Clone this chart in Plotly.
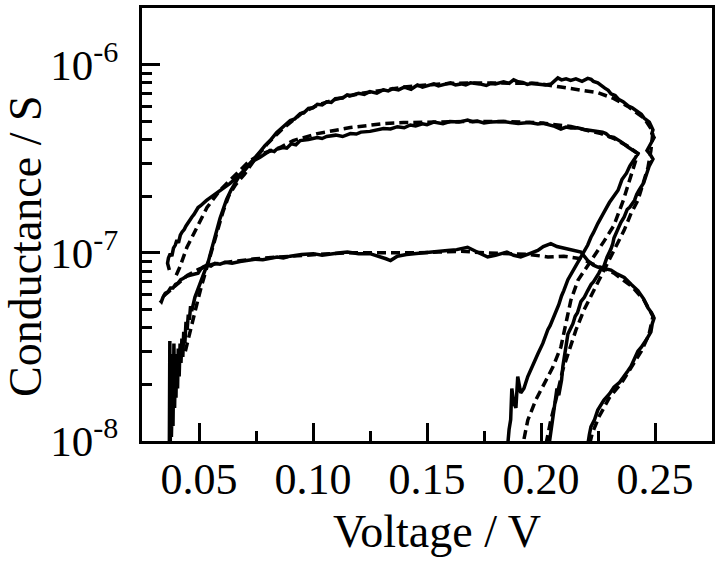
import plotly.graph_objects as go

# ---------------- data (Voltage / V , Conductance / S) ----------------
x_tick_vals = [0.05, 0.10, 0.15, 0.20, 0.25]
x_tick_text = ["0.05", "0.10", "0.15", "0.20", "0.25"]
x_minor_vals = [0.075, 0.125, 0.175, 0.225]
y_tick_vals = [1e-8, 1e-7, 1e-6]
y_tick_text = ["10<sup>-8</sup>", "10<sup>-7</sup>", "10<sup>-6</sup>"]
y_minor_vals = [2e-8, 3e-8, 4e-8, 5e-8, 6e-8, 7e-8, 8e-8, 9e-8,
                2e-7, 3e-7, 4e-7, 5e-7, 6e-7, 7e-7, 8e-7, 9e-7, 2e-6]

# loop 1 (highest conductance), measured
loop1_meas = [
    (0.0370, 0.95e-8), (0.0372, 3.4e-8), (0.0374, 1.0e-8), (0.0377, 2.9e-8), (0.0379, 1.05e-8),
    (0.0383, 1.8e-8), (0.0386, 1.2e-8), (0.0390, 3.3e-8), (0.0393, 1.5e-8), (0.0396, 2.6e-8),
    (0.0399, 1.7e-8), (0.0402, 2.9e-8), (0.0406, 1.9e-8), (0.0409, 3.1e-8), (0.0413, 2.2e-8),
    (0.0417, 3.3e-8), (0.0421, 2.6e-8), (0.0425, 3.5e-8), (0.0429, 2.8e-8), (0.0433, 3.8e-8),
    (0.0438, 3.3e-8), (0.0443, 4.3e-8), (0.0448, 3.9e-8), (0.0453, 4.7e-8), (0.0458, 4.4e-8),
    (0.0463, 5.2e-8), (0.0468, 4.9e-8), (0.0475, 5.5e-8), (0.0482, 5.8e-8),
    (0.0493, 6.3e-8), (0.0504, 6.8e-8), (0.0516, 7.4e-8), (0.0528, 8.1e-8), (0.0541, 9.0e-8),
    (0.0554, 1.03e-7), (0.0566, 1.15e-7), (0.0579, 1.33e-7), (0.0592, 1.52e-7), (0.0605, 1.70e-7),
    (0.0621, 1.92e-7), (0.0640, 2.15e-7), (0.0660, 2.38e-7), (0.0680, 2.60e-7), (0.0702, 2.78e-7),
    (0.0724, 3.00e-7), (0.0746, 3.25e-7), (0.0768, 3.45e-7), (0.0790, 3.72e-7), (0.0812, 3.95e-7),
    (0.0840, 4.35e-7), (0.0869, 4.70e-7), (0.0900, 5.05e-7), (0.0920, 5.15e-7), (0.0944, 5.50e-7),
    (0.0960, 5.55e-7), (0.0980, 5.85e-7), (0.1000, 5.90e-7), (0.1019, 6.15e-7), (0.1040, 6.10e-7),
    (0.1060, 6.35e-7), (0.1080, 6.30e-7), (0.1098, 6.60e-7), (0.1130, 6.65e-7), (0.1150, 6.90e-7),
    (0.1164, 6.85e-7), (0.1200, 7.05e-7), (0.1225, 6.95e-7), (0.1250, 7.20e-7), (0.1280, 7.05e-7),
    (0.1309, 7.35e-7), (0.1330, 7.25e-7), (0.1350, 7.45e-7), (0.1375, 7.35e-7), (0.1400, 7.60e-7),
    (0.1430, 7.40e-7), (0.1458, 7.80e-7), (0.1480, 7.60e-7), (0.1500, 7.75e-7), (0.1530, 7.90e-7),
    (0.1550, 7.70e-7), (0.1570, 7.80e-7), (0.1603, 8.00e-7), (0.1625, 7.80e-7), (0.1650, 7.90e-7),
    (0.1670, 7.80e-7), (0.1691, 8.00e-7), (0.1730, 7.90e-7), (0.1760, 7.75e-7), (0.1780, 7.95e-7),
    (0.1800, 7.90e-7), (0.1836, 8.10e-7), (0.1860, 7.95e-7), (0.1880, 8.30e-7), (0.1900, 8.10e-7),
    (0.1920, 8.05e-7), (0.1940, 7.85e-7), (0.1960, 7.95e-7), (0.1986, 7.85e-7), (0.2020, 7.80e-7),
    (0.2045, 7.90e-7), (0.2060, 8.20e-7), (0.2074, 8.50e-7), (0.2090, 8.30e-7), (0.2110, 8.40e-7),
    (0.2130, 8.25e-7), (0.2153, 8.40e-7), (0.2180, 8.15e-7), (0.2205, 8.45e-7), (0.2220, 8.35e-7),
    (0.2230, 8.15e-7), (0.2249, 8.00e-7), (0.2265, 7.70e-7), (0.2280, 7.50e-7), (0.2295, 7.30e-7),
    (0.2307, 7.00e-7), (0.2325, 6.85e-7), (0.2340, 6.55e-7), (0.2360, 6.35e-7), (0.2381, 6.05e-7),
    (0.2400, 5.90e-7), (0.2420, 5.65e-7), (0.2440, 5.45e-7), (0.2452, 5.20e-7), (0.2475, 4.95e-7),
    (0.2491, 4.50e-7), (0.2486, 4.30e-7), (0.2496, 4.10e-7), (0.2478, 3.75e-7), (0.2465, 3.50e-7),
    (0.2478, 3.35e-7), (0.2491, 3.15e-7), (0.2475, 2.90e-7), (0.2460, 2.55e-7), (0.2450, 2.35e-7),
    (0.2430, 2.15e-7), (0.2420, 2.05e-7), (0.2410, 1.90e-7), (0.2390, 1.75e-7), (0.2378, 1.70e-7),
    (0.2365, 1.55e-7), (0.2350, 1.45e-7), (0.2340, 1.35e-7), (0.2320, 1.20e-7), (0.2315, 1.12e-7),
    (0.2307, 1.05e-7), (0.2290, 9.5e-8), (0.2276, 8.5e-8), (0.2265, 8.3e-8), (0.2254, 7.8e-8),
    (0.2230, 7.0e-8), (0.2220, 6.8e-8), (0.2205, 6.3e-8), (0.2190, 5.8e-8), (0.2175, 5.5e-8),
    (0.2160, 4.8e-8), (0.2150, 4.6e-8), (0.2140, 4.2e-8), (0.2118, 3.7e-8), (0.2110, 3.2e-8),
    (0.2100, 2.8e-8), (0.2096, 2.5e-8), (0.2090, 2.1e-8), (0.2078, 1.75e-8), (0.2070, 1.9e-8),
    (0.2060, 1.55e-8), (0.2045, 1.2e-8), (0.2035, 0.95e-8),
]

# loop 2 (middle plateau), measured
loop2_meas = [
    (0.0370, 8.1e-8), (0.0362, 8.8e-8), (0.0366, 9.4e-8), (0.0374, 9.9e-8), (0.0381, 9.6e-8),
    (0.0388, 1.06e-7), (0.0396, 1.10e-7), (0.0403, 1.17e-7), (0.0410, 1.13e-7), (0.0418, 1.24e-7),
    (0.0426, 1.29e-7), (0.0435, 1.33e-7), (0.0443, 1.39e-7), (0.0452, 1.45e-7), (0.0460, 1.51e-7),
    (0.0469, 1.55e-7), (0.0478, 1.60e-7), (0.0487, 1.66e-7), (0.0496, 1.74e-7), (0.0507, 1.78e-7),
    (0.0518, 1.84e-7), (0.0533, 1.90e-7), (0.0548, 1.96e-7), (0.0563, 2.02e-7), (0.0579, 2.07e-7),
    (0.0592, 2.14e-7), (0.0605, 2.20e-7), (0.0620, 2.26e-7), (0.0636, 2.34e-7), (0.0660, 2.48e-7),
    (0.0680, 2.60e-7), (0.0702, 2.76e-7), (0.0724, 2.98e-7), (0.0746, 3.12e-7), (0.0768, 3.22e-7),
    (0.0790, 3.38e-7), (0.0812, 3.50e-7), (0.0830, 3.45e-7), (0.0840, 3.55e-7), (0.0869, 3.63e-7),
    (0.0885, 3.60e-7), (0.0905, 3.80e-7), (0.0925, 3.75e-7), (0.0944, 3.95e-7), (0.0980, 4.00e-7),
    (0.1019, 4.10e-7), (0.1040, 4.05e-7), (0.1060, 4.15e-7), (0.1100, 4.22e-7), (0.1130, 4.15e-7),
    (0.1164, 4.30e-7), (0.1190, 4.28e-7), (0.1210, 4.38e-7), (0.1250, 4.42e-7), (0.1280, 4.48e-7),
    (0.1309, 4.58e-7), (0.1340, 4.55e-7), (0.1370, 4.68e-7), (0.1400, 4.62e-7), (0.1427, 4.78e-7),
    (0.1450, 4.72e-7), (0.1480, 4.85e-7), (0.1500, 4.80e-7), (0.1529, 4.95e-7), (0.1570, 4.85e-7),
    (0.1600, 4.98e-7), (0.1640, 4.95e-7), (0.1678, 5.08e-7), (0.1700, 4.98e-7), (0.1720, 5.02e-7),
    (0.1750, 4.90e-7), (0.1779, 4.95e-7), (0.1836, 4.98e-7), (0.1870, 4.90e-7), (0.1900, 4.86e-7),
    (0.1950, 4.92e-7), (0.1986, 4.84e-7), (0.2010, 4.88e-7), (0.2040, 4.78e-7), (0.2060, 4.70e-7),
    (0.2087, 4.55e-7), (0.2110, 4.66e-7), (0.2131, 4.60e-7), (0.2160, 4.62e-7), (0.2190, 4.52e-7),
    (0.2249, 4.45e-7), (0.2270, 4.38e-7), (0.2285, 4.30e-7), (0.2300, 4.15e-7), (0.2320, 4.10e-7),
    (0.2350, 3.90e-7), (0.2381, 3.65e-7), (0.2405, 3.50e-7), (0.2425, 3.37e-7), (0.2410, 3.15e-7),
    (0.2390, 2.90e-7), (0.2375, 2.65e-7), (0.2355, 2.45e-7), (0.2338, 2.15e-7), (0.2320, 2.00e-7),
    (0.2300, 1.85e-7), (0.2276, 1.64e-7), (0.2260, 1.52e-7), (0.2249, 1.43e-7), (0.2230, 1.28e-7),
    (0.2219, 1.21e-7), (0.2205, 1.10e-7), (0.2190, 1.02e-7), (0.2175, 9.5e-8), (0.2160, 8.8e-8),
    (0.2144, 8.1e-8), (0.2130, 7.6e-8), (0.2118, 7.2e-8), (0.2100, 6.3e-8), (0.2090, 5.9e-8),
    (0.2078, 5.3e-8), (0.2056, 4.5e-8), (0.2040, 4.1e-8), (0.2030, 3.9e-8), (0.2008, 3.3e-8),
    (0.1986, 2.9e-8), (0.1964, 2.5e-8), (0.1950, 2.3e-8), (0.1942, 2.2e-8), (0.1925, 1.9e-8),
    (0.1911, 1.8e-8), (0.1898, 2.2e-8), (0.1890, 1.5e-8), (0.1880, 1.6e-8), (0.1872, 1.9e-8),
    (0.1867, 1.3e-8), (0.1860, 1.15e-8), (0.1854, 0.95e-8),
]

# loop 3 (lowest), measured
loop3_meas = [
    (0.0329, 5.6e-8), (0.0335, 5.5e-8), (0.0342, 5.8e-8), (0.0352, 6.1e-8), (0.0364, 6.2e-8),
    (0.0375, 6.5e-8), (0.0386, 6.5e-8), (0.0397, 6.8e-8), (0.0408, 6.9e-8), (0.0420, 7.2e-8),
    (0.0430, 7.3e-8), (0.0445, 7.5e-8), (0.0460, 7.6e-8), (0.0478, 7.7e-8), (0.0496, 7.8e-8),
    (0.0508, 8.2e-8), (0.0518, 8.4e-8), (0.0535, 8.6e-8), (0.0552, 8.5e-8), (0.0570, 8.8e-8),
    (0.0592, 8.7e-8), (0.0614, 8.9e-8), (0.0645, 8.8e-8), (0.0680, 9.0e-8), (0.0710, 9.1e-8),
    (0.0746, 9.25e-8), (0.0780, 9.2e-8), (0.0812, 9.35e-8), (0.0843, 9.5e-8), (0.0870, 9.4e-8),
    (0.0900, 9.6e-8), (0.0950, 9.8e-8), (0.1001, 9.9e-8), (0.1040, 9.7e-8), (0.1080, 9.8e-8),
    (0.1120, 1.0e-7), (0.1151, 1.01e-7), (0.1200, 9.9e-8), (0.1250, 9.9e-8), (0.1290, 9.6e-8),
    (0.1320, 9.3e-8), (0.1340, 9.1e-8), (0.1370, 9.6e-8), (0.1410, 9.8e-8), (0.1441, 9.9e-8),
    (0.1490, 1.0e-7), (0.1540, 1.02e-7), (0.1590, 1.03e-7), (0.1630, 1.04e-7), (0.1678, 1.07e-7),
    (0.1720, 1.01e-7), (0.1766, 9.5e-8), (0.1800, 9.7e-8), (0.1823, 9.9e-8), (0.1850, 1.01e-7),
    (0.1880, 9.7e-8), (0.1911, 9.5e-8), (0.1950, 9.9e-8), (0.1986, 1.03e-7), (0.2010, 1.08e-7),
    (0.2043, 1.12e-7), (0.2070, 1.08e-7), (0.2100, 1.06e-7), (0.2140, 1.04e-7), (0.2175, 1.01e-7),
    (0.2205, 9.1e-8), (0.2230, 8.6e-8), (0.2249, 8.4e-8), (0.2280, 8.2e-8), (0.2307, 8.1e-8),
    (0.2335, 7.7e-8), (0.2365, 7.4e-8), (0.2395, 6.8e-8), (0.2425, 6.3e-8), (0.2450, 5.7e-8),
    (0.2469, 5.1e-8), (0.2485, 4.8e-8), (0.2496, 4.5e-8), (0.2488, 4.2e-8), (0.2482, 3.8e-8),
    (0.2465, 3.5e-8), (0.2452, 3.3e-8), (0.2440, 3.15e-8), (0.2425, 3.0e-8), (0.2410, 2.7e-8),
    (0.2395, 2.5e-8), (0.2380, 2.35e-8), (0.2365, 2.2e-8), (0.2345, 2.05e-8), (0.2320, 1.93e-8),
    (0.2300, 1.78e-8), (0.2276, 1.65e-8), (0.2262, 1.55e-8), (0.2249, 1.46e-8), (0.2235, 1.3e-8),
    (0.2219, 1.19e-8), (0.2212, 1.08e-8), (0.2205, 0.95e-8),
]

# simulated curves (dashed)
loop1_sim = [
    (0.0440, 3.0e-8), (0.0470, 4.3e-8), (0.0490, 5.3e-8), (0.0510, 6.6e-8), (0.0535, 8.4e-8),
    (0.0560, 1.07e-7), (0.0580, 1.32e-7), (0.0605, 1.65e-7), (0.0630, 2.0e-7), (0.0660, 2.3e-7),
    (0.0700, 2.62e-7), (0.0750, 3.2e-7), (0.0800, 3.8e-7), (0.0870, 4.6e-7), (0.0950, 5.5e-7),
    (0.1020, 6.1e-7), (0.1100, 6.55e-7), (0.1200, 7.0e-7), (0.1300, 7.3e-7), (0.1400, 7.6e-7),
    (0.1500, 7.8e-7), (0.1600, 7.95e-7), (0.1700, 8.0e-7), (0.1800, 8.0e-7), (0.1900, 8.0e-7),
    (0.1986, 7.95e-7), (0.2087, 7.6e-7), (0.2175, 7.35e-7), (0.2249, 7.1e-7), (0.2320, 6.6e-7),
    (0.2381, 6.0e-7), (0.2452, 5.2e-7), (0.2491, 4.4e-7), (0.2482, 3.5e-7), (0.2469, 2.83e-7),
    (0.2452, 2.43e-7), (0.2425, 1.90e-7), (0.2395, 1.62e-7), (0.2365, 1.32e-7), (0.2320, 1.03e-7),
    (0.2276, 8.07e-8), (0.2232, 6.33e-8), (0.2188, 4.95e-8), (0.2153, 3.88e-8), (0.2122, 3.04e-8),
    (0.2096, 2.4e-8), (0.2065, 1.65e-8), (0.2043, 1.29e-8), (0.2021, 0.95e-8),
]

loop2_sim = [
    (0.0400, 7.6e-8), (0.0416, 8.4e-8), (0.0447, 1.07e-7), (0.0491, 1.37e-7), (0.0535, 1.74e-7),
    (0.0592, 2.15e-7), (0.0649, 2.53e-7), (0.0724, 3.1e-7), (0.0781, 3.37e-7), (0.0856, 3.63e-7),
    (0.0913, 3.95e-7), (0.1019, 4.30e-7), (0.1164, 4.63e-7), (0.1309, 4.86e-7), (0.1397, 4.92e-7),
    (0.1530, 4.97e-7), (0.1691, 4.99e-7), (0.1836, 4.99e-7), (0.1986, 4.92e-7), (0.2131, 4.69e-7),
    (0.2263, 4.30e-7), (0.2320, 4.05e-7), (0.2381, 3.68e-7), (0.2425, 3.37e-7), (0.2410, 2.9e-7),
    (0.2395, 2.58e-7), (0.2361, 1.90e-7), (0.2320, 1.40e-7), (0.2276, 1.15e-7), (0.2219, 9.1e-8),
    (0.2162, 7.15e-8), (0.2131, 5.6e-8), (0.2087, 3.15e-8), (0.2052, 2.47e-8), (0.2021, 2.11e-8),
    (0.1977, 1.65e-8), (0.1942, 1.29e-8), (0.1920, 0.95e-8),
]

loop3_sim = [
    (0.0345, 5.9e-8), (0.0400, 6.7e-8), (0.0450, 7.6e-8), (0.0500, 8.2e-8), (0.0560, 8.7e-8),
    (0.0650, 9.0e-8), (0.0750, 9.3e-8), (0.0850, 9.5e-8), (0.0950, 9.7e-8), (0.1050, 9.85e-8),
    (0.1150, 1.0e-7), (0.1250, 1.0e-7), (0.1350, 9.9e-8), (0.1450, 1.0e-7), (0.1550, 1.01e-7),
    (0.1650, 1.02e-7), (0.1750, 1.0e-7), (0.1850, 9.9e-8), (0.1950, 9.8e-8), (0.2030, 9.5e-8),
    (0.2100, 9.6e-8), (0.2175, 9.3e-8), (0.2249, 8.5e-8), (0.2320, 7.8e-8), (0.2400, 6.6e-8),
    (0.2452, 5.6e-8), (0.2491, 4.6e-8), (0.2474, 3.7e-8), (0.2440, 3.0e-8), (0.2400, 2.5e-8),
    (0.2355, 2.05e-8), (0.2300, 1.7e-8), (0.2255, 1.35e-8), (0.2225, 1.1e-8), (0.2212, 0.95e-8),
]

# ---------------- figure ----------------
fig = go.Figure()

def add_curve(pairs, dash):
    fig.add_trace(go.Scatter(
        x=[p[0] for p in pairs], y=[p[1] for p in pairs], mode="lines",
        line=dict(color="black", width=3.5, dash=dash), hoverinfo="skip",
    ))

for sim in (loop1_sim, loop2_sim, loop3_sim):
    add_curve(sim, "9px,5px")
for meas in (loop1_meas, loop2_meas, loop3_meas):
    add_curve(meas, "solid")

font_family = "Liberation Serif, Times New Roman, serif"

fig.update_layout(
    width=720, height=561,
    margin=dict(l=142, r=8, t=8, b=120),
    paper_bgcolor="white", plot_bgcolor="white",
    showlegend=False,
    font=dict(family=font_family, color="black", size=43),
)

fig.update_xaxes(
    range=[0.025, 0.275], automargin=False,
    tickmode="array", tickvals=x_tick_vals, ticktext=x_tick_text,
    ticks="inside", ticklen=18, tickwidth=3, tickcolor="black",
    showline=True, linewidth=3, linecolor="black", mirror=True,
    showgrid=False, zeroline=False,
    tickfont=dict(family=font_family, size=44, color="black"),
    ticklabelstandoff=-3,
    minor=dict(tickmode="array", tickvals=x_minor_vals, ticks="inside",
               ticklen=10, tickwidth=3, tickcolor="black", showgrid=False),
)

fig.update_yaxes(
    type="log", range=[-8, -5.699], automargin=False,
    tickmode="array", tickvals=y_tick_vals, ticktext=y_tick_text,
    ticks="inside", ticklen=18, tickwidth=3, tickcolor="black",
    showline=True, linewidth=3, linecolor="black", mirror=True,
    showgrid=False, zeroline=False,
    tickfont=dict(family=font_family, size=43, color="black"),
    ticklabelstandoff=12,
    minor=dict(tickmode="array", tickvals=y_minor_vals, ticks="inside",
               ticklen=10, tickwidth=3, tickcolor="black", showgrid=False),
)

fig.add_annotation(
    text="Voltage / V", xref="paper", yref="paper",
    x=(437.5 - 142) / 570, y=(441 - 531) / 433,
    xanchor="center", yanchor="middle", showarrow=False,
    font=dict(family=font_family, size=46, color="black"),
)
fig.add_annotation(
    text="Conductance / S", xref="paper", yref="paper",
    x=(25 - 142) / 570, y=(441 - 246) / 433,
    xanchor="center", yanchor="middle", textangle=-90, showarrow=False,
    font=dict(family=font_family, size=46, color="black"),
)

fig.write_html(
    "out.html",
    config={"displayModeBar": False, "staticPlot": True},
    post_script="document.body.style.margin='0px';",
)
